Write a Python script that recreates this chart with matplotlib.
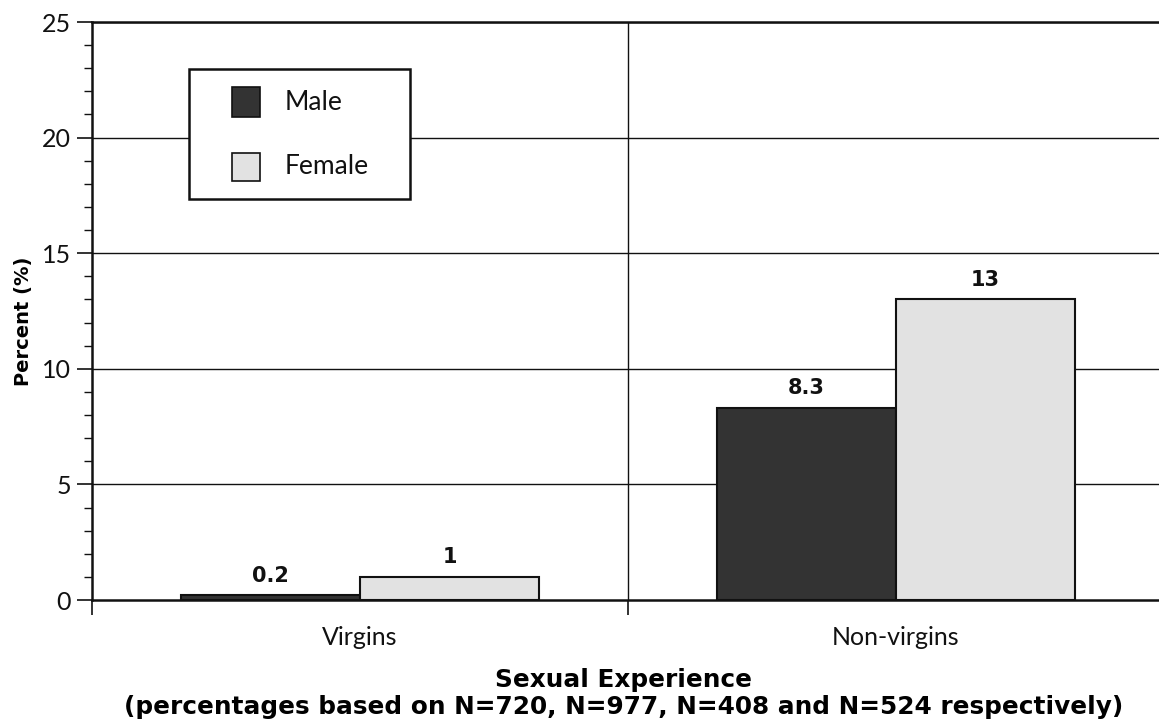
import matplotlib
matplotlib.use("Agg")
import matplotlib.pyplot as plt
import numpy as np
from matplotlib.ticker import MultipleLocator, FixedLocator, NullFormatter
from matplotlib.patches import Rectangle

categories = ["Virgins", "Non-virgins"]
series_names = ["Male", "Female"]
male = [0.2, 8.3]
female = [1, 13]
value_labels_male = ["0.2", "8.3"]
value_labels_female = ["1", "13"]
yticks = [0, 5, 10, 15, 20, 25]

colors = ["#333333", "#e2e2e2"]
edge = "#111111"

plt.rcParams['font.family'] = ['Lato', 'DejaVu Sans']
heavy = ['DejaVu Sans']

W, H = 1159, 724
fig = plt.figure(figsize=(W / 100, H / 100), dpi=100)
left, right, top, bottom = 92, 1164, 22, 600
ax = fig.add_axes([left / W, (H - bottom) / H, (right - left) / W, (bottom - top) / H])

x = np.arange(len(categories))
bw = 0.334
ax.bar(x - bw / 2, male, width=bw, color=colors[0], edgecolor=edge, linewidth=1.5, zorder=3)
ax.bar(x + bw / 2, female, width=bw, color=colors[1], edgecolor=edge, linewidth=1.5, zorder=3)

for xi, v, t in zip(x - bw / 2, male, value_labels_male):
    ax.text(xi, v + 0.42, t, ha="center", va="bottom", fontsize=15, fontweight="bold",
            family=heavy, color=edge)
for xi, v, t in zip(x + bw / 2, female, value_labels_female):
    ax.text(xi, v + 0.42, t, ha="center", va="bottom", fontsize=15, fontweight="bold",
            family=heavy, color=edge)

ax.set_xlim(-0.5, len(categories) - 0.5)
ax.set_ylim(0, 25)

ax.yaxis.set_major_locator(FixedLocator(yticks))
ax.yaxis.set_minor_locator(MultipleLocator(1))
ax.tick_params(axis="y", which="major", direction="out", length=11, width=1.2, labelsize=18, pad=4, colors=edge)
ax.tick_params(axis="y", which="minor", direction="out", length=5.5, width=1.0, colors=edge)
for y in yticks[1:]:
    ax.axhline(y, color=edge, linewidth=1.0, zorder=1)

ax.set_xticks(x)
ax.set_xticklabels(categories, fontsize=18)
ax.xaxis.set_minor_locator(FixedLocator(np.arange(len(categories) + 1) - 0.5))
ax.xaxis.set_minor_formatter(NullFormatter())
ax.tick_params(axis="x", which="major", length=0, pad=19, colors=edge)
ax.tick_params(axis="x", which="minor", direction="out", length=11, width=1.2, colors=edge)
for b in np.arange(1, len(categories)) - 0.5:
    ax.axvline(b, color=edge, linewidth=1.0, zorder=1)

for s in ["left", "bottom", "top"]:
    ax.spines[s].set_linewidth(1.8)
    ax.spines[s].set_color(edge)
ax.spines["right"].set_visible(False)

ax.set_ylabel("Percent (%)", fontsize=14, fontweight="bold", family=heavy)
ax.yaxis.set_label_coords(-0.055, 0.483)
ax.set_xlabel("Sexual Experience\n(percentages based on N=720, N=977, N=408 and N=524 respectively)",
              fontsize=17.8, fontweight="bold", family=heavy, linespacing=1.2)
ax.xaxis.set_label_coords(0.496, -0.117)

# legend box (drawn in figure pixel fractions)
def fx(px):
    return px / W

def fy(py):
    return (H - py) / H

fig.patches.append(Rectangle((fx(189), fy(199)), fx(410) - fx(189), fy(69) - fy(199),
                             transform=fig.transFigure, facecolor="white", edgecolor=edge,
                             linewidth=1.8, zorder=5))
rows = [(87, 117), (153, 181)]
for (y0, y1), c, name in zip(rows, colors, series_names):
    fig.patches.append(Rectangle((fx(232), fy(y1)), fx(260) - fx(232), fy(y0) - fy(y1),
                                 transform=fig.transFigure, facecolor=c, edgecolor=edge,
                                 linewidth=1.2, zorder=6))
    fig.text(fx(285), fy((y0 + y1) / 2), name, fontsize=19, va="center", ha="left",
             color=edge, zorder=7)

fig.savefig("out.png", dpi=100, facecolor="white")
